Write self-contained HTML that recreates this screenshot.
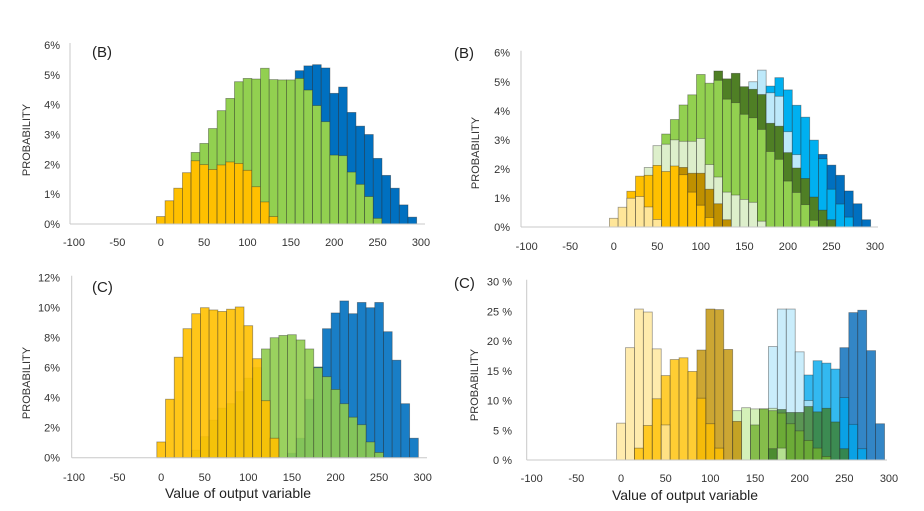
<!DOCTYPE html>
<html><head><meta charset="utf-8"><style>
body{margin:0;background:#fff;}
svg{display:block;font-family:"Liberation Sans",Arial,sans-serif;}
</style></head><body>
<svg id="c" width="924" height="511" viewBox="0 0 924 511"></svg>
<script>
// ---- data: bins are 10 wide, centered at start + 10*i ----
const p1YellowStart = 0,  p1Yellow = [0.25,0.78,1.2,1.72,2.12,1.99,1.83,1.98,2.08,2.03,1.8,1.25,0.74,0.25];
const p1GreenStart = 40,  p1Green = [2.4,2.7,3.2,3.8,4.21,4.77,4.88,4.86,5.22,4.84,4.83,4.83,4.88,4.49,3.97,3.43,2.31,2.29,1.74,1.33,0.92,0.19];
const p1BlueStart = 160,  p1Blue = [5.14,5.3,5.34,5.23,4.38,4.59,3.74,3.28,3.0,2.2,1.63,1.2,0.64,0.23];

const p2LightYellowStart = 0,  p2LightYellow = [0.3,0.68,0.99,1.05,0.69,0.26];
const p2YellowStart = 20,  p2Yellow = [1.23,1.75,1.78,2.12,1.91,2.1,1.8,1.2,0.75,0.33];
const p2GoldStart = 80,  p2Gold = [2.05,1.85,1.85,1.3,0.8,0.25];
const p2LightGreenStart = 40,  p2LightGreen = [2.05,2.8,2.85,3.0,2.95,2.95,3.05,2.15,1.72,1.2,1.1,0.95,0.85,0.2];
const p2GreenStart = 60,  p2Green = [3.2,3.7,4.2,4.55,5.25,4.95,5.05,4.4,4.28,3.88,3.76,3.36,2.6,2.33,1.58,1.19,0.77,0.23];
const p2DarkGreenStart = 120,  p2DarkGreen = [5.37,5.1,5.29,4.83,4.74,4.56,3.57,3.47,2.56,2.03,1.67,1.03,0.58,0.25];
const p2LightBlueStart = 160,  p2LightBlue = [5.0,5.4,4.62,4.5,3.28,2.49];
const p2BlueStart = 180,  p2Blue = [4.85,5.14,4.72,4.19,3.78,2.99,2.35,1.3,0.79,0.34];
const p2DarkBlueStart = 240,  p2DarkBlue = [2.5,2.13,1.78,1.24,0.8,0.25];

const p3YellowStart = 0,  p3Yellow = [1.05,3.9,6.7,8.6,9.6,10.0,9.85,9.75,9.9,10.05,8.8,6.6,3.8,1.3];
const p3GreenStart = 40,  p3Green = [0.5,1.4,2.5,3.3,3.6,4.4,5.3,6.0,7.25,8.0,8.15,8.2,7.85,7.25,6.0,5.4,4.55,3.6,2.7,2.2,1.05,0.35];
const p3BlueStart = 150,  p3Blue = [0.3,1.3,3.9,6.05,8.6,9.65,10.45,9.6,10.35,10.0,10.35,8.4,6.5,3.6,1.3];

const p4LightYellowStart = 0,  p4LightYellow = [6.2,18.9,25.4,24.9,18.7,5.9];
const p4YellowStart = 20,  p4Yellow = [2.0,5.8,10.3,14.2,16.9,17.2,14.9,10.4,6.1,2.0];
const p4GoldStart = 90,  p4Gold = [18.5,25.4,25.3,18.6,6.5];
const p4LightGreenStart = 130,  p4LightGreen = [8.3,8.8,8.6,8.6,8.7,2.0];
const p4GreenStart = 150,  p4Green = [5.9,8.6,8.3,7.9,6.1,4.9,3.3,2.0,0.6];
const p4DarkGreenStart = 170,  p4DarkGreen = [1.9,8.5,8.0,8.0,9.0,8.1,8.7,6.4,1.9];
const p4LightBlueStart = 170,  p4LightBlue = [19.1,25.4,25.4,18.2,10.0];
const p4BlueStart = 210,  p4Blue = [14.3,16.7,16.3,15.3,10.5,6.0,1.9];
const p4DarkBlueStart = 250,  p4DarkBlue = [18.9,24.8,25.2,18.4,6.1];

const xTicks = [-100,-50,0,50,100,150,200,250,300];
const yTicksSmall = [0,1,2,3,4,5,6];
const yTicksC1 = [0,2,4,6,8,10,12];
const yTicksC2 = [0,5,10,15,20,25,30];

const NS="http://www.w3.org/2000/svg";
const svg=document.getElementById('c');
function mk(tag,attrs,parent){const e=document.createElementNS(NS,tag);for(const k in attrs)e.setAttribute(k,attrs[k]);(parent||svg).appendChild(e);return e;}

const panels=[
 {name:'panel-b-left',x0:74,x1:421,y0:224,yTop:45,ymax:6,axL:70,axR:425,yt:yTicksSmall,fmt:v=>v+'%',ylx:60,xly:246,title:'(B)',tx:92,ty:57,plx:30,ply:140,op:1,
  series:[['yellow','#FFC000',p1YellowStart,p1Yellow],['green','#92D050',p1GreenStart,p1Green],['blue','#0070C0',p1BlueStart,p1Blue]]},
 {name:'panel-b-right',x0:526.7,x1:875,y0:227,yTop:52.7,ymax:6,axL:521,axR:878,yt:yTicksSmall,fmt:v=>v+'%',ylx:510,xly:250,title:'(B)',tx:454,ty:58,plx:479,ply:153,op:1,
  series:[['light-yellow','#FFE699',p2LightYellowStart,p2LightYellow],['yellow','#FFC000',p2YellowStart,p2Yellow],['gold','#BF9000',p2GoldStart,p2Gold],
   ['light-green','#DDEFCB',p2LightGreenStart,p2LightGreen],['green','#92D050',p2GreenStart,p2Green],['dark-green','#4F7F25',p2DarkGreenStart,p2DarkGreen],
   ['light-blue','#BDE9FA',p2LightBlueStart,p2LightBlue],['blue','#00B0F0',p2BlueStart,p2Blue],['dark-blue','#0070C0',p2DarkBlueStart,p2DarkBlue]]},
 {name:'panel-c-left',x0:74,x1:422.7,y0:457.7,yTop:277.7,ymax:12,axL:71.7,axR:427,yt:yTicksC1,fmt:v=>v+'%',ylx:60,xly:481,title:'(C)',tx:92,ty:292,plx:30,ply:383,op:0.9,ordered:true,
  series:[['blue','#0070C0',p3BlueStart,p3Blue],['green','#8FCC4E',p3GreenStart,p3Green],['yellow','#FFC000',p3YellowStart,p3Yellow]],xtitle:[238,498]},
 {name:'panel-c-right',x0:531.7,x1:889,y0:460,yTop:281.7,ymax:30,axL:526.7,axR:887,yt:yTicksC2,fmt:v=>v+' %',ylx:512,xly:482,title:'(C)',tx:454,ty:288,plx:478,ply:385,op:0.8,
  series:[['light-yellow','#FFE699',p4LightYellowStart,p4LightYellow],['yellow','#FFC000',p4YellowStart,p4Yellow],['gold','#BF9000',p4GoldStart,p4Gold],
   ['light-green','#C9EEA8',p4LightGreenStart,p4LightGreen],['green','#70B030',p4GreenStart,p4Green],['dark-green','#3F7F2A',p4DarkGreenStart,p4DarkGreen],
   ['light-blue','#BDE9FA',p4LightBlueStart,p4LightBlue],['blue','#00A8EC',p4BlueStart,p4Blue],['dark-blue','#0068B8',p4DarkBlueStart,p4DarkBlue]],xtitle:[685,500]}
];

panels.forEach(p=>{
 const g=mk('g',{});
 
 
 const xs=v=>p.x0+(v+100)*(p.x1-p.x0)/400;
 const ys=v=>p.y0-v*(p.y0-p.yTop)/p.ymax;
 const bw=xs(10)-xs(0);
 const bg=mk('g',{},g);
 
 
 function bar(c,b){
   const r=mk('rect',{x:xs(+c)-bw/2,y:ys(b.v),width:bw,height:p.y0-ys(b.v),fill:b.col,'fill-opacity':p.op,stroke:'rgba(40,40,40,0.45)','stroke-width':0.8},bg);
   
   
 }
 if(p.ordered){
  p.series.forEach(s=>{s[3].forEach((v,i)=>bar(s[2]+10*i,{n:s[0],col:s[1],v:v}));});
 } else {
  const bins={};
  p.series.forEach(s=>{s[3].forEach((v,i)=>{const c=s[2]+10*i;(bins[c]=bins[c]||[]).push({n:s[0],col:s[1],v:v});});});
  Object.keys(bins).forEach(c=>{bins[c].sort((a,b)=>b.v-a.v).forEach(b=>bar(c,b));});
 }
 const ya=mk('line',{x1:p.axL,y1:p.yTop-2,x2:p.axL,y2:p.y0,stroke:'#c8c8c8','stroke-width':1},g);
 
 
 const xa=mk('line',{x1:p.axL,y1:p.y0,x2:p.axR,y2:p.y0,stroke:'#c8c8c8','stroke-width':1},g);
 
 
 p.yt.forEach(v=>{const t=mk('text',{x:p.ylx,y:ys(v)+4,'text-anchor':'end','font-size':11,fill:'#333'},g);t.textContent=p.fmt(v);
  
  });
 xTicks.forEach(v=>{const t=mk('text',{x:xs(v),y:p.xly,'text-anchor':'middle','font-size':11,fill:'#333'},g);t.textContent=v;
  
  });
 const tt=mk('text',{x:p.tx,y:p.ty,'font-size':15,fill:'#222'},g);tt.textContent=p.title;
 
 
 const yl=mk('text',{x:0,y:0,'text-anchor':'middle','font-size':11,fill:'#333',transform:`translate(${p.plx},${p.ply}) rotate(-90)`},g);yl.textContent='PROBABILITY';
 
 
 if(p.xtitle){const xt=mk('text',{x:p.xtitle[0],y:p.xtitle[1],'text-anchor':'middle','font-size':14,fill:'#222'},g);xt.textContent='Value of output variable';
  
  }
});
</script>
</body></html>
